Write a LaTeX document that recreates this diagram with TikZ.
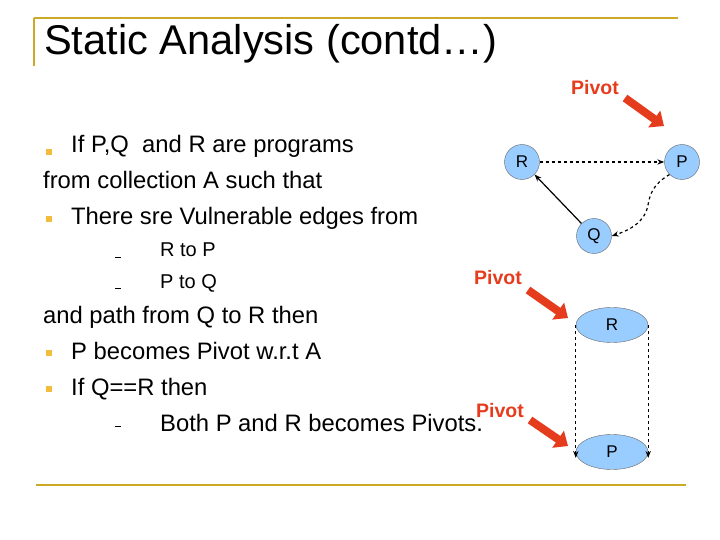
\documentclass[tikz,border=0pt]{standalone}
\usepackage{fontspec}
\setmainfont{Liberation Sans}
\usetikzlibrary{arrows.meta,shapes.geometric}
\definecolor{gold}{RGB}{204,170,40}
\definecolor{bul}{RGB}{240,190,60}
\definecolor{nodeblue}{RGB}{153,204,255}
\definecolor{pivred}{RGB}{230,60,30}
\begin{document}
\begin{tikzpicture}[x=1pt,y=-1pt,
  txt/.style={anchor=base west,font=\fontsize{23.8}{26}\selectfont,inner sep=0},
  sub/.style={anchor=base west,font=\fontsize{20}{23}\selectfont,inner sep=0},
  bl/.style={fill=bul,minimum size=6pt,inner sep=0},
  dsh/.style={fill=black,minimum width=6pt,minimum height=1pt,inner sep=0},
  cnode/.style={circle,draw=black!60,fill=nodeblue,minimum size=35pt,inner sep=0,font=\fontsize{17}{19}\selectfont},
  enode/.style={ellipse,draw=black!60,fill=nodeblue,minimum width=72pt,minimum height=35pt,inner sep=0,font=\fontsize{17}{19}\selectfont},
  pivlab/.style={text=pivred,font=\bfseries\fontsize{19.5}{21}\selectfont,inner sep=0},
  piv/.style={-{Triangle[length=12pt,width=20pt]},line width=8pt,color=pivred},
  va/.style={-{Stealth[length=7pt]},dashed,line width=1.2pt},
  vs/.style={-{Stealth[length=7pt]},line width=1.2pt}]
\useasboundingbox (0,0) rectangle (720,540);
\draw[gold,line width=2pt] (34,18) -- (678,18);
\draw[gold,line width=2pt] (34,18) -- (34,66);
\draw[gold,line width=2pt] (36,485) -- (686,485);
\node[anchor=base west,inner sep=0,font=\fontsize{41.6}{46}\selectfont] (title) at (44,55) {Static Analysis (contd…)};
% text
\node[bl] (b1) at (49,152) {};
\node[txt] (t1) at (71,153) {If P,Q\ \ and R are programs};
\node[txt] (t2) at (43,189) {from collection A such that};
\node[bl] (b2) at (49,219) {};
\node[txt] (t3) at (71,225) {There sre Vulnerable edges from};
\node[dsh] (d1) at (118,257) {};
\node[sub] (t4) at (160,256) {R to P};
\node[dsh] (d2) at (118,288) {};
\node[sub] (t5) at (160,288) {P to Q};
\node[txt] (t6) at (43,323) {and path from Q to R then};
\node[bl] (b3) at (49,353) {};
\node[txt] (t7) at (71,359) {P becomes Pivot w.r.t A};
\node[bl] (b4) at (49,389) {};
\node[txt] (t8) at (71,395) {If Q==R then};
\node[dsh] (d3) at (118,426) {};
\node[txt] (t9) at (160,431) {Both P and R becomes Pivots.};
% graph 1
\node[cnode] (R) at (522,162) {R};
\node[cnode] (P) at (682,162) {P};
\node[cnode] (Q) at (594,236) {Q};
\draw[va] (R) -- (P);
\draw[va] (P.south west) .. controls (652,185) and (650,195) .. (648,205) .. controls (645,222) and (630,230) .. (Q.east);
\draw[vs] (Q.north west) -- (R.south east);
\node[pivlab] (pv1) at (595,88) {Pivot};
\coordinate (a1s) at (625,98); \coordinate (a1e) at (664,126);
\draw[piv] (a1s) -- (a1e);
% graph 2
\node[enode] (R2) at (612,325) {R};
\node[enode] (P2) at (612,452) {P};
\draw[va] (R2.west) -- ([yshift=-6pt]P2.west);
\draw[va] (R2.east) -- ([yshift=-6pt]P2.east);
\node[pivlab] (pv2) at (498,278) {Pivot};
\coordinate (a2s) at (528,290); \coordinate (a2e) at (568,318);
\draw[piv] (a2s) -- (a2e);
\node[pivlab] (pv3) at (500,411) {Pivot};
\coordinate (a3s) at (530,420); \coordinate (a3e) at (568,446);
\draw[piv] (a3s) -- (a3e);
\end{tikzpicture}
\end{document}
